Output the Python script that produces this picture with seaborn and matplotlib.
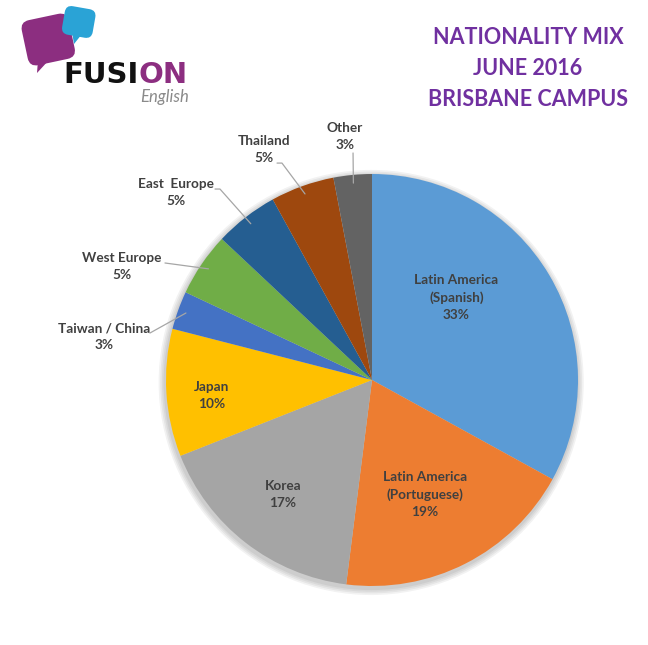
import matplotlib
matplotlib.use("Agg")
import matplotlib.pyplot as plt
import seaborn as sns
import numpy as np
from matplotlib.patches import FancyBboxPatch, Polygon, Circle
from matplotlib.transforms import Affine2D

categories = ["Latin America\n(Spanish)", "Latin America\n(Portuguese)", "Korea", "Japan",
              "Taiwan / China", "West Europe", "East  Europe", "Thailand", "Other"]
values = [33, 19, 17, 10, 3, 5, 5, 5, 3]
colors = ["#5B9BD5", "#ED7D31", "#A5A5A5", "#FFC000", "#4472C4",
          "#70AD47", "#255E91", "#9E480E", "#636363"]
title_lines = ["NATIONALITY MIX", "JUNE 2016", "BRISBANE CAMPUS"]

# label layout (in pie-radius units, relative to centre)
label_pos = [(0.41, 0.40), (0.257, -0.558), (-0.432, -0.558), (-0.777, -0.073),
             (-1.30, 0.209), (-1.214, 0.549), (-0.951, 0.908), (-0.524, 1.117), (-0.131, 1.184)]
# leader line start (label side) for outside labels; None = inside label
leader_start = [None, None, None, None,
                [(-1.078, 0.228)], [(-1.005, 0.568)],
                [(-0.762, 0.927), (-0.738, 0.927)],
                [(-0.461, 1.053), (-0.437, 1.053)],
                [(-0.092, 1.102)]]

sns.set_theme(style="white")
plt.rcParams["font.family"] = ["Lato", "DejaVu Sans"]

fig = plt.figure(figsize=(6.48, 6.45), dpi=100)
W, H = 648, 645
cx, cy, R = 372, 380, 206
ax = fig.add_axes([(cx - R) / W, 1 - (cy + R) / H, 2 * R / W, 2 * R / H])

# subtle shadow
for i in range(4):
    ax.add_patch(Circle((-0.004, -0.012), 1.0 + 0.008 * (i + 1), color="black",
                        alpha=0.05, lw=0, zorder=0, clip_on=False))

wedges, _ = ax.pie(values, colors=colors, startangle=90, counterclock=False,
                   radius=1.0, wedgeprops=dict(linewidth=0))
ax.set_xlim(-1, 1)
ax.set_ylim(-1, 1)
ax.set_aspect("equal")
ax.axis("off")

txt_col = "#404040"
for w, cat, val, pos, ls in zip(wedges, categories, values, label_pos, leader_start):
    ax.text(pos[0], pos[1], f"{cat}\n{val}%", ha="center", va="center",
            fontsize=9.8, fontweight="bold", color=txt_col, linespacing=1.5)
    if ls is not None:
        mid = np.deg2rad((w.theta1 + w.theta2) / 2)
        end = (0.96 * np.cos(mid), 0.96 * np.sin(mid))
        pts = ls + [end]
        xs = [p[0] for p in pts]
        ys = [p[1] for p in pts]
        ax.plot(xs, ys, color="#A6A6A6", lw=0.9, clip_on=False, zorder=5)

# title
for i, t in enumerate(title_lines):
    fig.text(528 / W, 1 - (37 + 31.5 * i) / H, t, ha="center", va="center",
             fontsize=15.5, fontweight="bold", color="#7030A0")

# logo overlay
lax = fig.add_axes([0, 0, 1, 1])
lax.set_xlim(0, W)
lax.set_ylim(H, 0)
lax.axis("off")
lax.patch.set_alpha(0)

purple = "#8C2E80"
blue = "#2AA3D6"
# purple bubble
pb = FancyBboxPatch((0, 0), 48, 46, boxstyle="round,pad=0,rounding_size=9",
                    fc=purple, ec="none",
                    transform=Affine2D().rotate_deg(-12).translate(20, 22) + lax.transData)
lax.add_patch(pb)
lax.add_patch(Polygon([(38, 60), (49, 60), (37, 73)], closed=True, fc=purple, ec="none"))
# blue bubble
bb = FancyBboxPatch((0, 0), 31, 29, boxstyle="round,pad=0,rounding_size=7",
                    fc=blue, ec="none",
                    transform=Affine2D().rotate_deg(10).translate(66, 5) + lax.transData)
lax.add_patch(bb)
lax.add_patch(Polygon([(72, 32), (82, 34), (74, 44)], closed=True, fc=blue, ec="none"))

t1 = lax.text(63, 75, "FUSI", fontsize=21, fontweight="heavy", color="#111111",
              ha="left", va="center", family=["DejaVu Sans"])
lax.annotate("ON", xy=(1, 0.5), xycoords=t1, xytext=(0, 0), textcoords="offset points",
             fontsize=21, fontweight="heavy", color=purple, ha="left", va="center",
             family=["DejaVu Sans"])
lax.text(140, 97, "English", fontsize=12, style="italic", color="#8A8A8A",
         ha="left", va="center")

fig.savefig("out.png", dpi=100, facecolor="white")
